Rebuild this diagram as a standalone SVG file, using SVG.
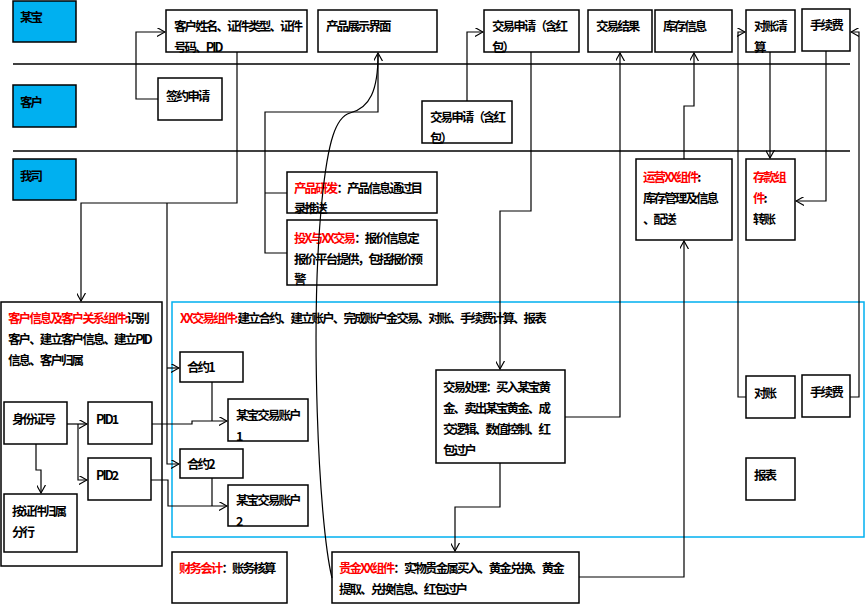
<svg xmlns="http://www.w3.org/2000/svg" width="865" height="611" viewBox="0 0 865 611">
<style>
text{font-family:"Noto Sans CJK SC","Liberation Sans",sans-serif;font-size:12.5px;font-weight:bold;fill:#000;letter-spacing:-1.9px}
.r{fill:#f00}
.b{fill:#fff;stroke:#000;stroke-width:1.5}
.lane{fill:#00b0f0;stroke:#000;stroke-width:1.5}
.c{fill:none;stroke:#000;stroke-width:1.2}
</style>
<defs><marker id="a" viewBox="0 0 10 10" refX="9" refY="5" markerWidth="9" markerHeight="9" orient="auto" markerUnits="userSpaceOnUse"><path d="M0,0L9,5L0,10" fill="none" stroke="#000" stroke-width="1.3"/></marker></defs>
<rect width="865" height="611" fill="#fff"/>
<g id="lanes">
<line x1="13" y1="64" x2="850" y2="64" stroke="#000" stroke-width="1.5"/>
<line x1="13" y1="151" x2="850" y2="151" stroke="#000" stroke-width="1.5"/>
<rect class="lane" x="13" y="1" width="63" height="41"/><text x="20" y="22">某宝</text>
<rect class="lane" x="13" y="85" width="63" height="42"/><text x="20" y="107">客户</text>
<rect class="lane" x="13" y="159" width="63" height="41"/><text x="20" y="181">我司</text>
</g>
<g id="xxgroup"><rect x="172" y="302" width="692" height="235" fill="none" stroke="#00b0f0" stroke-width="1.5"/><text x="180" y="323"><tspan class="r">XX交易组件:</tspan> 建立合约、建立账户、完成账户金交易、对账、手续费计算、报表</text></g>
<g id="n1"><rect class="b" x="166" y="10" width="141" height="42"/><text x="174" y="31">客户姓名、证件类型、证件</text><text x="174" y="52">号码、PID</text></g>
<g id="n2"><rect class="b" x="318" y="10" width="119" height="42"/><text x="326" y="31">产品展示界面</text></g>
<g id="n3"><rect class="b" x="158" y="78" width="64" height="42"/><text x="166" y="101">签约申请</text></g>
<g id="n4"><rect class="b" x="484" y="10" width="95" height="42"/><text x="492" y="31">交易申请（含红</text><text x="492" y="52">包）</text></g>
<g id="n5"><rect class="b" x="588" y="10" width="64" height="42"/><text x="596" y="31">交易结果</text></g>
<g id="n6"><rect class="b" x="655" y="10" width="77" height="42"/><text x="663" y="31">库存信息</text></g>
<g id="n7"><rect class="b" x="746" y="10" width="49" height="42"/><text x="754" y="31">对账清</text><text x="754" y="52">算</text></g>
<g id="n8"><rect class="b" x="802" y="9" width="48" height="42"/><text x="810" y="30">手续费</text></g>
<g id="n9"><rect class="b" x="422" y="101" width="90" height="42"/><text x="430" y="122">交易申请（含红</text><text x="430" y="143">包）</text></g>
<g id="n10"><rect class="b" x="287" y="172" width="150" height="41"/><text x="294" y="193"><tspan class="r">产品研发</tspan>：产品信息通过目</text><text x="294" y="213">录推送</text></g>
<g id="n11"><rect class="b" x="287" y="220" width="150" height="65"/><text x="294" y="243"><tspan class="r">投X与XX交易</tspan>：报价信息定</text><text x="294" y="264">报价平台提供，包括报价预</text><text x="294" y="284">警</text></g>
<g id="n12"><rect class="b" x="636" y="159" width="96" height="81"/><text x="643" y="182" class="r">运营XX组件<tspan fill="#000">:</tspan></text><text x="643" y="203">库存管理及信息</text><text x="643" y="224">、配送</text></g>
<g id="n13"><rect class="b" x="746" y="159" width="49" height="81"/><text x="753" y="182" class="r">存款组</text><text x="753" y="203"><tspan class="r">件</tspan>:</text><text x="753" y="224">转账</text></g>
<g id="n14"><rect class="b" x="1" y="302" width="161" height="264"/><text x="8" y="323"><tspan class="r">客户信息及客户关系组件:</tspan>识别</text><text x="8" y="344">客户、建立客户信息、建立PID</text><text x="8" y="365">信息、客户归属</text></g>
<g id="n15"><rect class="b" x="180" y="352" width="63" height="30"/><text x="187" y="372">合约1</text></g>
<g id="n16"><rect class="b" x="228" y="399" width="80" height="42"/><text x="236" y="420">某宝交易账户</text><text x="236" y="441">1</text></g>
<g id="n17"><rect class="b" x="180" y="449" width="63" height="29"/><text x="187" y="469">合约2</text></g>
<g id="n18"><rect class="b" x="228" y="485" width="80" height="41"/><text x="236" y="505">某宝交易账户</text><text x="236" y="526">2</text></g>
<g id="n19"><rect class="b" x="4" y="402" width="63" height="42"/><text x="12" y="424">身份证号</text></g>
<g id="n20"><rect class="b" x="88" y="402" width="64" height="42"/><text x="96" y="424">PID1</text></g>
<g id="n21"><rect class="b" x="88" y="458" width="63" height="42"/><text x="96" y="480">PID2</text></g>
<g id="n22"><rect class="b" x="4" y="494" width="73" height="58"/><text x="12" y="516">按证件归属</text><text x="12" y="537">分行</text></g>
<g id="n23"><rect class="b" x="172" y="552" width="115" height="51"/><text x="179" y="573"><tspan class="r">财务会计</tspan>：账务核算</text></g>
<g id="n24"><rect class="b" x="332" y="552" width="247" height="51"/><text x="339" y="573"><tspan class="r">贵金XX组件</tspan>：实物贵金属买入、黄金兑换、黄金</text><text x="339" y="594">提取、兑换信息、红包过户</text></g>
<g id="n25"><rect class="b" x="436" y="370" width="129" height="93"/><text x="443" y="392">交易处理：买入某宝黄</text><text x="443" y="413">金、卖出某宝黄金、成</text><text x="443" y="434">交逻辑、数值控制、红</text><text x="443" y="455">包过户</text></g>
<g id="n26"><rect class="b" x="746" y="376" width="49" height="42"/><text x="754" y="398">对账</text></g>
<g id="n27"><rect class="b" x="802" y="375" width="48" height="42"/><text x="810" y="397">手续费</text></g>
<g id="n28"><rect class="b" x="746" y="458" width="49" height="42"/><text x="754" y="480">报表</text></g>
<g id="connectors">
<path class="c" d="M158,99H136V32H165" marker-end="url(#a)"/>
<path class="c" d="M237,52V203H81V301" marker-end="url(#a)"/>
<path class="c" d="M167,203V464H179" marker-end="url(#a)"/>
<path class="c" d="M167,368H179" marker-end="url(#a)"/>
<path class="c" d="M287,193H265M287,253H265V112H378V53" marker-end="url(#a)"/>
<path class="c" d="M332,578C318,520 310,320 322,200C328,140 336,117 350,113C370,108 378,90 378,55"/>
<path class="c" d="M467,101V32H483" marker-end="url(#a)"/>
<path class="c" d="M531,52V211H500V369" marker-end="url(#a)"/>
<path class="c" d="M565,417H620V53" marker-end="url(#a)"/>
<path class="c" d="M500,463V507H455V551" marker-end="url(#a)"/>
<path class="c" d="M579,577H684V241" marker-end="url(#a)"/>
<path class="c" d="M684,159V106H694V53" marker-end="url(#a)"/>
<path class="c" d="M770,52V158" marker-end="url(#a)"/>
<path class="c" d="M826,51V201H796" marker-end="url(#a)"/>
<path class="c" d="M746,397H738V32H745" marker-end="url(#a)"/>
<path class="c" d="M850,397H859V32H851" marker-end="url(#a)"/>
<path class="c" d="M67,424H87" marker-end="url(#a)"/>
<path class="c" d="M78,424V480H87" marker-end="url(#a)"/>
<path class="c" d="M36,444V470H41V493" marker-end="url(#a)"/>
<path class="c" d="M152,424H192V421H227" marker-end="url(#a)"/>
<path class="c" d="M212,382V421"/>
<path class="c" d="M151,480H168V506H227" marker-end="url(#a)"/>
<path class="c" d="M212,478V506"/>
</g>
</svg>
